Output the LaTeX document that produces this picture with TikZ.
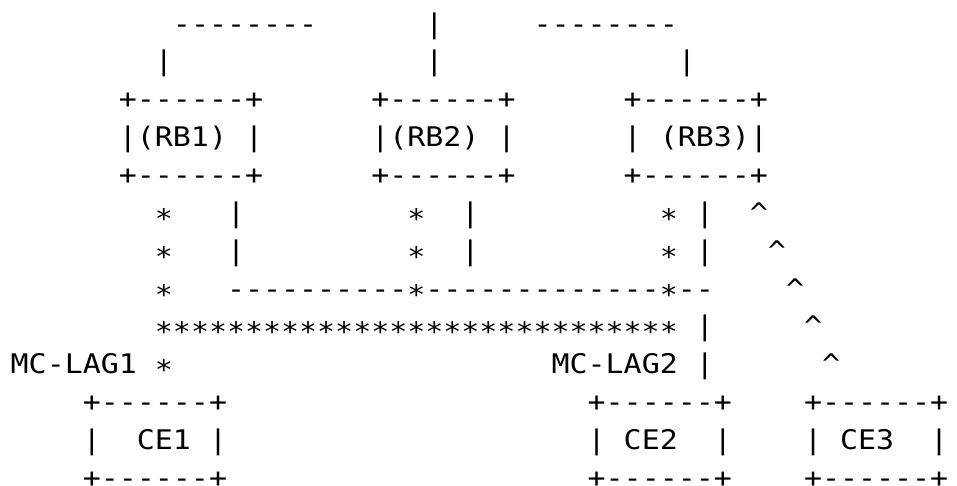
\documentclass[tikz,border=0pt]{standalone}
\usepackage{fontspec}
\usepackage{graphicx}
\setmonofont{DejaVu Sans Mono}
\newcommand\sx[1]{\scalebox{1.1092}[1]{#1}}
\newcommand\lo[1]{\raisebox{-6pt}{#1}}
\newcommand\up{\textasciicircum}
\tikzset{
  txt/.style={inner sep=0pt, outer sep=0pt, anchor=base west,
    font=\ttfamily\fontsize{27pt}{27pt}\selectfont, text=black},
  cell/.style 2 args={at={({10.7+18.03*(#1)},{35.5+(12-(#2))*37.85})}}
}
\begin{document}
\begin{tikzpicture}[x=1pt,y=1pt]
\useasboundingbox[fill=white] (0,0) rectangle (957,485);
% row 1
\node[txt, cell={9}{1}]  (topL) {\sx{--------}};
\node[txt, cell={23}{1}] (topM) {\sx{|}};
\node[txt, cell={29}{1}] (topR) {\sx{--------}};
% row 2
\node[txt, cell={8}{2}]  (v1) {\sx{|}};
\node[txt, cell={23}{2}] (v2) {\sx{|}};
\node[txt, cell={37}{2}] (v3) {\sx{|}};
% RB boxes
\foreach \c/\n in {6/1,20/2,34/3}{
  \node[txt, cell={\c}{3}] (rbtop\n) {\sx{+------+}};
  \node[txt, cell={\c}{5}] (rbbot\n) {\sx{+------+}};
}
\node[txt, cell={6}{4}]  (rb1l) {\sx{|}};
\node[txt, cell={7}{4}]  (rb1)  {\sx{(RB1)}};
\node[txt, cell={13}{4}] (rb1r) {\sx{|}};
\node[txt, cell={20}{4}] (rb2l) {\sx{|}};
\node[txt, cell={21}{4}] (rb2)  {\sx{(RB2)}};
\node[txt, cell={27}{4}] (rb2r) {\sx{|}};
\node[txt, cell={34}{4}] (rb3l) {\sx{|}};
\node[txt, cell={36}{4}] (rb3)  {\sx{(RB3)|}};
% rows 6-7
\foreach \r/\a in {6/41,7/42}{
  \node[txt, cell={8}{\r}]  (sa\r) {\lo{\sx{*}}};
  \node[txt, cell={12}{\r}] (pa\r) {\sx{|}};
  \node[txt, cell={22}{\r}] (sb\r) {\lo{\sx{*}}};
  \node[txt, cell={25}{\r}] (pb\r) {\sx{|}};
  \node[txt, cell={36}{\r}] (sc\r) {\lo{\sx{*}}};
  \node[txt, cell={38}{\r}] (pc\r) {\sx{|}};
  \node[txt, cell={\a}{\r}] (car\r) {\sx{\up}};
}
% row 8
\node[txt, cell={8}{8}]  (sa8) {\lo{\sx{*}}};
\node[txt, cell={12}{8}] (da8) {\sx{----------}};
\node[txt, cell={22}{8}] (sb8) {\lo{\sx{*}}};
\node[txt, cell={23}{8}] (db8) {\sx{-------------}};
\node[txt, cell={36}{8}] (sc8) {\lo{\sx{*}}};
\node[txt, cell={37}{8}] (dc8) {\sx{--}};
\node[txt, cell={43}{8}] (car8) {\sx{\up}};
% row 9
\node[txt, cell={8}{9}]  (stars) {\lo{\sx{*****************************}}};
\node[txt, cell={38}{9}] (pc9) {\sx{|}};
\node[txt, cell={44}{9}] (car9) {\sx{\up}};
% row 10
\node[txt, cell={0}{10}]  (lag1) {\sx{MC-LAG1}};
\node[txt, cell={8}{10}]  (sa10) {\lo{\sx{*}}};
\node[txt, cell={30}{10}] (lag2) {\sx{MC-LAG2}};
\node[txt, cell={38}{10}] (pc10) {\sx{|}};
\node[txt, cell={45}{10}] (car10) {\sx{\up}};
% CE boxes
\foreach \c/\n in {4/1,32/2,44/3}{
  \node[txt, cell={\c}{11}] (cetop\n) {\sx{+------+}};
  \node[txt, cell={\c}{13}] (cebot\n) {\sx{+------+}};
  \node[txt, cell={\c}{12}] (cel\n) {\sx{|}};
  \node[txt, cell={\c+7}{12}] (cer\n) {\sx{|}};
}
\node[txt, cell={7}{12}]  (ce1) {\sx{CE1}};
\node[txt, cell={34}{12}] (ce2) {\sx{CE2}};
\node[txt, cell={46}{12}] (ce3) {\sx{CE3}};
\end{tikzpicture}
\end{document}
